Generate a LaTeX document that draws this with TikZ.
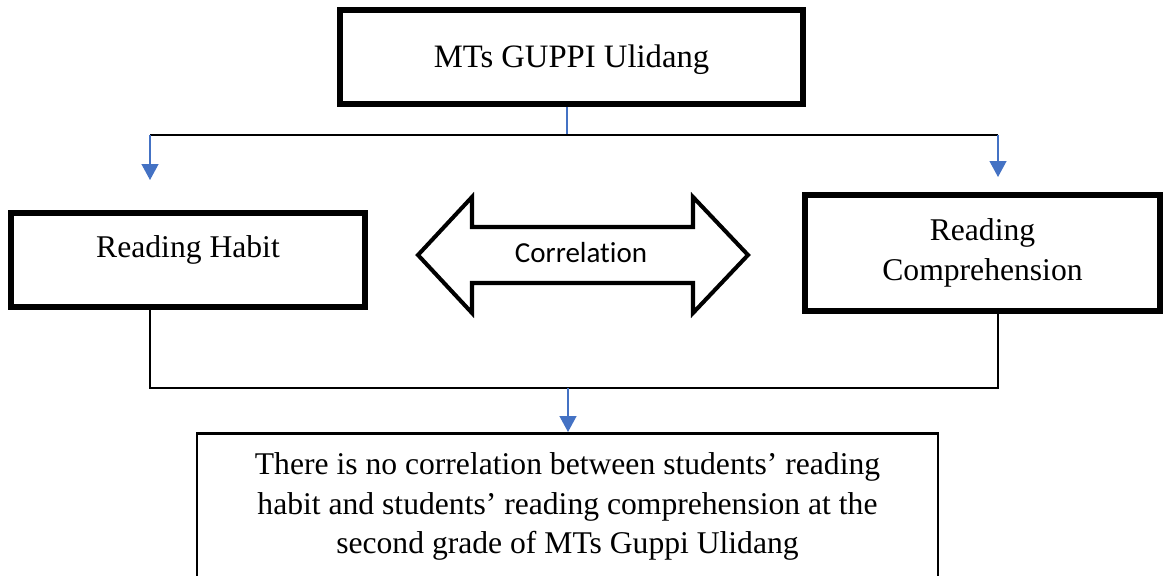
\documentclass[tikz,border=0pt]{standalone}
\usepackage{fontspec}
\setmainfont{Liberation Serif}
\newfontfamily\labelfont[Ligatures=NoCommon]{Carlito}
\usetikzlibrary{arrows.meta,positioning}
\definecolor{linkblue}{RGB}{68,114,196}

\begin{document}
\begin{tikzpicture}[x=0.02cm, y=-0.02cm,
    box/.style={draw, line width=3.4pt, rectangle, align=center, inner sep=0pt, font=\fontsize{18}{23}\selectfont},
    note/.style={draw, line width=1.5pt, rectangle, align=center, font=\fontsize{18}{22.5}\selectfont},
    link/.style={line width=0.75pt, black},
    feed/.style={line width=0.75pt, linkblue},
    arrow/.style={-{Triangle[length=0.32cm, width=0.34cm]}, line width=0.75pt, linkblue},
    corr/.style={font=\labelfont\fontsize{16.5}{19}\selectfont}
]
\useasboundingbox (0,0) rectangle (1165,575);
\clip (0,0) rectangle (1165,575);

\node[box, minimum width=9.26cm, minimum height=1.88cm, text height=0.65cm, text depth=0.25cm,
    font=\fontsize{18.6}{23}\selectfont] (school) at (571.5,57) {MTs GUPPI Ulidang};
\node[box, minimum width=7.08cm, minimum height=1.88cm, text height=0.45cm, text depth=0.55cm] (habit) at (188,260) {Reading Habit};
\node[box, minimum width=7.1cm, minimum height=2.32cm] (compr) at (982.5,253) {Reading\\Comprehension};
\node[note, anchor=north, minimum width=14.82cm, inner ysep=0.39cm, text depth=2.6cm] (result) at (567.5,432)
    {There is no correlation between students’ reading\\habit and students’ reading comprehension at the\\second grade of MTs Guppi Ulidang};

% double arrow between the two variables
\draw[line width=2.3pt, line join=miter] (418,255) -- (472,197) -- (472,227) -- (693,227) -- (693,197)
    -- (748,255) -- (693,313) -- (693,283) -- (472,283) -- (472,313) -- cycle;
\node[corr] (corrtext) at (581,253) {Correlation};

% branches from the school
\coordinate (split) at (567,135);
\coordinate (toleft) at (150,135);
\coordinate (toright) at (998,135);
\coordinate (habitin) at (150,180);
\coordinate (comprin) at (998,177);
\draw[feed] (school.south -| split) -- (split);
\draw[link] (toleft) -- (toright);
\draw[arrow] (toleft) -- (habitin);
\draw[arrow] (toright) -- (comprin);

% both variables lead to the result
\coordinate (habitout) at (150,388);
\coordinate (comprout) at (998,388);
\coordinate (join) at (568,388);
\draw[link] (habit.south -| habitout) -- (habitout) -- (comprout) -- (compr.south -| comprout);
\draw[arrow] (join) -- (result.north -| join);

\end{tikzpicture}
\end{document}
